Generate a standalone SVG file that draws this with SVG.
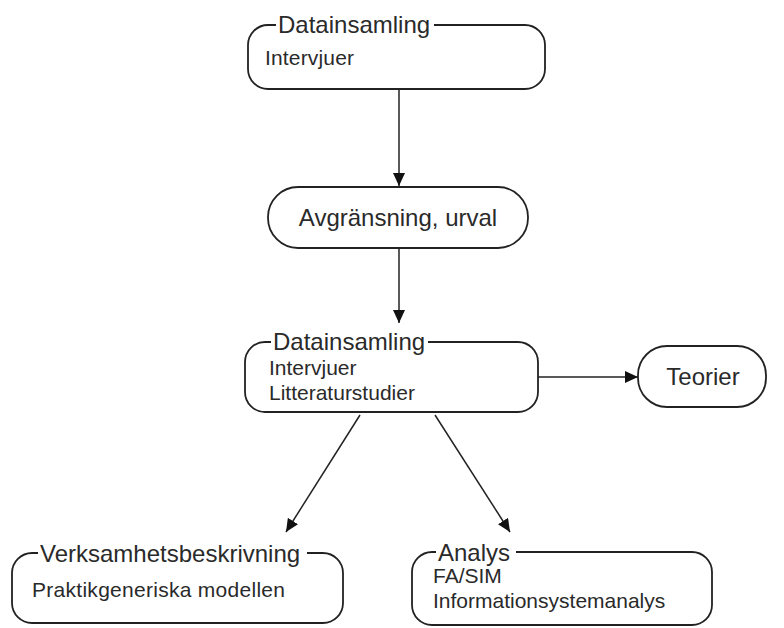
<svg xmlns="http://www.w3.org/2000/svg" width="784" height="628" viewBox="0 0 784 628">
<defs>
<marker id="arr" markerUnits="userSpaceOnUse" markerWidth="14" markerHeight="12" refX="13" refY="6" orient="auto">
<path d="M0,0 L13,6 L0,12 z" fill="#111"/>
</marker>
<style>
.box{fill:none;stroke:#222;stroke-width:1.8}
.t{font-family:"Liberation Sans",Arial,sans-serif;fill:#2a2a2a}
.title{font-size:24px}
.body{font-size:21px}
.c{text-anchor:middle}
.con{stroke:#222;stroke-width:1.5;fill:none;marker-end:url(#arr)}
</style>
</defs>
<rect width="784" height="628" fill="#fff"/>
<g id="connectors">
<line class="con" x1="399" y1="89" x2="399" y2="186"/>
<line class="con" x1="399" y1="248" x2="399" y2="323"/>
<line class="con" x1="538" y1="377" x2="638" y2="377"/>
<line class="con" x1="360" y1="415" x2="286" y2="532"/>
<line class="con" x1="435" y1="415" x2="510" y2="532"/>
</g>
<g id="n1">
<path class="box" d="M276,25 H268 A20,20 0 0 0 248,45 V69 A20,20 0 0 0 268,89 H525 A20,20 0 0 0 545,69 V45 A20,20 0 0 0 525,25 H434"/>
<text class="t title" x="278" y="33">Datainsamling</text>
<text class="t body" x="265" y="65" textLength="89">Intervjuer</text>
</g>
<g id="n2">
<rect class="box" x="268" y="187" width="260" height="61" rx="30" ry="30"/>
<text class="t title c" x="398" y="226">Avgränsning, urval</text>
</g>
<g id="n3">
<path class="box" d="M271,342 H265 A20,20 0 0 0 245,362 V392 A20,20 0 0 0 265,412 H518 A20,20 0 0 0 538,392 V362 A20,20 0 0 0 518,342 H428"/>
<text class="t title" x="273" y="350">Datainsamling</text>
<text class="t body" x="269" y="375">Intervjuer</text>
<text class="t body" x="269" y="400">Litteraturstudier</text>
</g>
<g id="n4">
<rect class="box" x="638" y="346" width="128" height="61" rx="29" ry="29"/>
<text class="t title c" x="703" y="385">Teorier</text>
</g>
<g id="n5">
<path class="box" d="M38,553 H32 A20,20 0 0 0 12,573 V603 A20,20 0 0 0 32,623 H323 A20,20 0 0 0 343,603 V573 A20,20 0 0 0 323,553 H307"/>
<text class="t title" x="40" y="562">Verksamhetsbeskrivning</text>
<text class="t body" x="32" y="597" textLength="253">Praktikgeneriska modellen</text>
</g>
<g id="n6">
<path class="box" d="M436,552 H432 A20,20 0 0 0 412,572 V605 A20,20 0 0 0 432,625 H692 A20,20 0 0 0 712,605 V572 A20,20 0 0 0 692,552 H516"/>
<text class="t title" x="438" y="561">Analys</text>
<text class="t body" x="433" y="583">FA/SIM</text>
<text class="t body" x="433" y="608">Informationsystemanalys</text>
</g>
</svg>
